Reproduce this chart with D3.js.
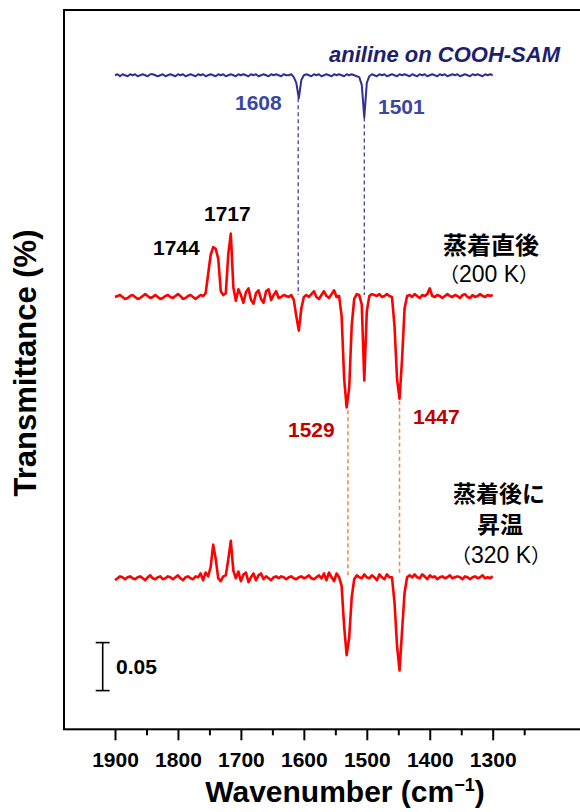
<html>
<head>
<script src="https://d3js.org/d3.v7.min.js"></script>
<style>
  body { margin: 0; background: #fff; }
  svg text { font-family: "Liberation Sans", Arial, sans-serif; }
  .jp { font-family: "Noto Sans CJK JP", sans-serif; }
</style>
</head>
<body>
<svg id="chart" width="580" height="812"></svg>
<script>
// wavenumber grid, 1900 -> 1300 cm-1, step 4
const wavenumbers = d3.range(1900, 1299, -4);

// values in 0.001 transmittance units, baseline 0
const aniline = [
  0, 1, -1, 1, 0, -1, 1, 0, 1, -1,
  0, 1, 0, -1, 1, 1, 0, -1, 0, 1,
  -1, 0, 1, 0, -1, 1, 0, 1, -1, 0,
  1, 0, -1, 1, 0, 1, -1, 0, 1, 0,
  -1, 1, 0, 1, -1, 0, 1, 0, -1, 1,
  0, 1, 0, -1, 1, 0, 1, -1, 0, 1,
  0, -1, 1, 0, 1, 0, -1, 1, 0, 0,
  1, -2, -8, -24, -5, 0, 1, 0, -1, 1,
  0, 1, -1, 0, 1, 0, -1, 1, 0, 1,
  0, -1, 1, 0, 1, 0, -1, -2, -10, -44,
  -8, -1, 1, 0, -1, 1, 0, 1, -1, 0,
  1, 0, -1, 1, 0, 1, 0, -1, 1, 0,
  -1, 1, 0, 1, -1, 0, 1, 0, -1, 1,
  0, 1, -1, 0, 1, 0, 1, -1, 0, 1,
  0, -1, 1, 0, 1, 0, -1, 1, 0, 1, 0
];

const asDeposited = [
  0, 1, 2, 0, -2, -1, 1, 2, 0, -2,
  -1, 1, 3, 1, -1, 0, 2, 0, -2, -1,
  1, 2, 0, -1, 1, 3, 1, -2, -1, 1,
  2, 0, -2, 0, 2, 1, 4, 24, 44, 52,
  50, 40, 6, 2, 4, 45, 66, 10, -4, 8,
  2, -6, 5, 9, -3, -7, 4, 7, -2, -6,
  6, 8, -3, 2, 6, -1, 0, 2, 1, 0,
  2, -3, -20, -35, -12, 0, 2, 0, 3, 6,
  0, -2, 2, 6, 1, -1, 3, 7, 0, 1,
  -20, -85, -115, -95, -30, -2, 3, 2, -8, -87,
  -15, 1, 3, 2, 1, 3, 0, 1, 3, 1,
  0, -30, -85, -106, -65, -12, 1, 2, 0, 3,
  1, -1, 2, 1, 3, 9, 1, 0, 2, 1,
  -1, 1, 3, 1, 0, 2, 1, -1, 2, 3,
  0, -1, 2, 0, 1, 3, 1, 0, 2, 1, 2
];

const annealed = [
  -2, 0, 2, 1, -1, 1, 2, 0, -1, 1,
  2, 0, -2, 1, 3, 0, -1, 1, 2, -1,
  0, 2, 1, -1, 1, 3, 0, -2, 1, 2,
  0, -1, 2, 1, 5, -2, 6, 2, 12, 35,
  20, 0, -3, 2, 3, 20, 39, 8, 0, 7,
  -3, 4, 6, -4, 1, 5, -2, 3, 5, -1,
  2, 0, -2, 1, 2, 0, 2, 1, -1, 1,
  2, 0, -1, 1, 2, 0, 1, 3, 0, -1,
  1, 3, 0, 5, -2, 6, 1, -3, 5, 1,
  -8, -50, -80, -62, -20, -1, 3, 1, 0, 4,
  1, 0, 3, 1, -2, 4, 1, -1, 4, 1,
  1, -25, -70, -96, -55, -15, 1, 3, 1, 4,
  1, 0, 4, 2, -1, 3, 1, 2, -1, 1,
  2, 0, 1, 3, 0, 1, 2, 1, -1, 2,
  1, -1, 1, 2, 0, 1, 3, 0, 1, 0, 2
];

// vertical offsets of the stacked traces (same units)
const offsets = [231, 0, -293];

const majorTicks = [1900, 1800, 1700, 1600, 1500, 1400, 1300];
const minorTicks = [1850, 1750, 1650, 1550, 1450, 1350, 1250];

const blueMarks = [1609, 1504];   // aniline bands
const blueDepth = [-24, -44];
const orangeMarks = [1530, 1448]; // bands carried to annealed trace
const orangeDepth = [-118, -108];

const svg = d3.select('#chart');

const x = d3.scaleLinear().domain([1900, 1300]).range([115, 492.7]);
const y = d3.scaleLinear().domain([0, 100]).range([297, 201]);

const frameLeft = 64, frameTop = 10, frameBottom = 729.3;

// frame (right edge falls outside the picture)
svg.append('rect')
  .attr('x', frameLeft).attr('y', frameTop)
  .attr('width', 600).attr('height', frameBottom - frameTop)
  .attr('fill', 'none').attr('stroke', '#000').attr('stroke-width', 2);

// x axis
const axisG = svg.append('g').attr('transform', `translate(0,${frameBottom})`);
axisG.call(d3.axisBottom(x).tickValues(majorTicks).tickSize(11).tickPadding(12).tickFormat(d3.format('d')));
axisG.append('g').call(d3.axisBottom(x).tickValues(minorTicks).tickSize(6).tickFormat(''));
axisG.selectAll('.domain').remove();
axisG.selectAll('line').attr('stroke', '#000').attr('stroke-width', 2);
axisG.selectAll('text')
  .attr('fill', '#000')
  .style('font-family', '"Liberation Sans", Arial, sans-serif')
  .style('font-size', '21px').style('font-weight', 'bold');

// axis titles
const xt = svg.append('text')
  .attr('x', 345).attr('y', 802)
  .attr('text-anchor', 'middle')
  .style('font-size', '30px').style('font-weight', 'bold');
xt.append('tspan').text('Wavenumber (cm');
xt.append('tspan').text('\u22121').attr('dy', -11).style('font-size', '18px');
xt.append('tspan').text(')').attr('dy', 11);

svg.append('text')
  .attr('transform', 'translate(36,363) rotate(-90)')
  .attr('text-anchor', 'middle')
  .style('font-size', '31px').style('font-weight', 'bold')
  .text('Transmittance (%)');

// dashed guide lines
blueMarks.forEach((w, i) => {
  svg.append('line')
    .attr('x1', x(w)).attr('x2', x(w))
    .attr('y1', y(offsets[0] + blueDepth[i])).attr('y2', y(offsets[1] + 2))
    .attr('stroke', '#2E3192').attr('stroke-width', 1.2)
    .attr('stroke-dasharray', '4,3');
});
orangeMarks.forEach((w, i) => {
  svg.append('line')
    .attr('x1', x(w)).attr('x2', x(w))
    .attr('y1', y(offsets[1] + orangeDepth[i])).attr('y2', y(offsets[2] + 3))
    .attr('stroke', '#F5873A').attr('stroke-width', 1.5)
    .attr('stroke-dasharray', '4,3');
});

// spectra
const line = d3.line()
  .x((d, i) => x(wavenumbers[i]))
  .y(d => y(d));

const traces = [
  {values: aniline, color: '#2E3192', width: 2},
  {values: asDeposited, color: '#FF0000', width: 2.6},
  {values: annealed, color: '#FF0000', width: 2.6}
];
traces.forEach((t, k) => {
  svg.append('path')
    .datum(t.values.map(v => v + offsets[k]))
    .attr('d', line)
    .attr('fill', 'none')
    .attr('stroke', t.color)
    .attr('stroke-width', t.width)
    .attr('stroke-linejoin', 'round');
});

// peak labels
function label(txt, px, py, color) {
  svg.append('text')
    .attr('x', px).attr('y', py)
    .attr('fill', color)
    .style('font-size', '21px').style('font-weight', 'bold')
    .text(txt);
}
label('1608', 235, 110, '#3B45A3');
label('1501', 378, 114, '#3B45A3');
label('1744', 153, 255, '#000');
label('1717', 204, 221, '#000');
label('1529', 288, 437, '#C00000');
label('1447', 413, 424, '#C00000');

svg.append('text')
  .attr('x', 560).attr('y', 62)
  .attr('text-anchor', 'end')
  .attr('fill', '#1E1E70')
  .style('font-size', '22px').style('font-weight', 'bold').style('font-style', 'italic')
  .text('aniline on COOH-SAM');

// condition labels
function jp(txt, cx, by, size) {
  svg.append('text')
    .attr('class', 'jp')
    .attr('x', cx).attr('y', by)
    .attr('text-anchor', 'middle')
    .attr('fill', '#000')
    .style('font-size', size + 'px')
    .style('font-weight', 'bold')
    .text(txt);
}
function temp(txt, cx, by) {
  const t = svg.append('text')
    .attr('x', cx).attr('y', by)
    .attr('text-anchor', 'middle')
    .attr('fill', '#000')
    .style('font-size', '23px');
  t.append('tspan').attr('class', 'jp').style('font-size', '20px').text('（');
  t.append('tspan').text(txt);
  t.append('tspan').attr('class', 'jp').style('font-size', '20px').text('）');
}
jp('蒸着直後', 491, 253.5, 24);
temp('200 K', 489, 282);
jp('蒸着後に', 499, 502, 23);
jp('昇温', 500, 533, 23);
temp('320 K', 501, 563);

// scale bar: 0.05 = 50 units
const barX = 102.7, barTop = -360, barBottom = -410;
const bar = svg.append('g').attr('stroke', '#000').attr('stroke-width', 1.6);
bar.append('line').attr('x1', barX).attr('x2', barX).attr('y1', y(barTop)).attr('y2', y(barBottom));
bar.append('line').attr('x1', barX - 7).attr('x2', barX + 7).attr('y1', y(barTop)).attr('y2', y(barTop));
bar.append('line').attr('x1', barX - 7).attr('x2', barX + 7).attr('y1', y(barBottom)).attr('y2', y(barBottom));
svg.append('text')
  .attr('x', 116).attr('y', 674)
  .style('font-size', '21px').style('font-weight', 'bold')
  .text('0.05');
</script>
</body>
</html>
